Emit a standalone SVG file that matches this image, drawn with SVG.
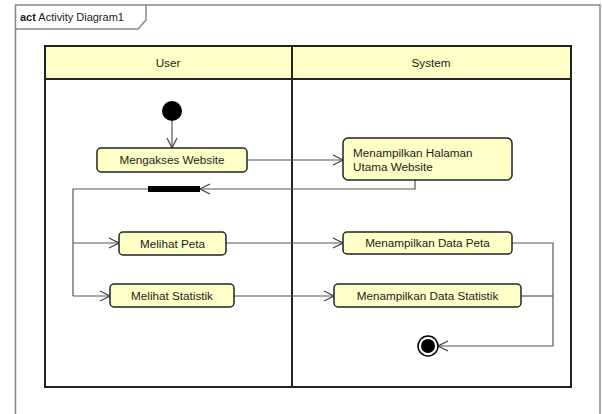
<svg xmlns="http://www.w3.org/2000/svg" width="602" height="414" viewBox="0 0 602 414">
<defs>
<style>
text{font-family:"Liberation Sans",Arial,sans-serif;font-size:11.7px;fill:#222}
.title{font-size:11px}
.frame{fill:none;stroke:#888;stroke-width:1.5}
.lane{fill:none;stroke:#222;stroke-width:2}
.hdr{fill:#FFFFC8;stroke:#222;stroke-width:2}
.act{fill:#FFFFC8;stroke:#222;stroke-width:1.5}
.edge{fill:none;stroke:#555;stroke-width:1.2}
</style>
<marker id="ah" markerWidth="12" markerHeight="12" refX="11" refY="6" orient="auto" markerUnits="userSpaceOnUse">
<path d="M1,1 L11,6 L1,11" fill="none" stroke="#444" stroke-width="1.2"/>
</marker>
</defs>
<rect width="602" height="414" fill="#fff"/>
<g id="frame">
<path class="frame" d="M15.5,414 V5 H600 V414"/>
<path class="frame" d="M15.5,29 H138 L146,20 V5"/>
<text class="title" x="20" y="21"><tspan font-weight="bold">act</tspan> Activity Diagram1</text>
</g>
<g id="lanes">
<rect class="hdr" x="45" y="46" width="526" height="33"/>
<line class="lane" x1="292" y1="46" x2="292" y2="387"/>
<rect class="lane" x="45" y="46" width="526" height="341"/>
<text x="168" y="67" text-anchor="middle">User</text>
<text x="431" y="67" text-anchor="middle">System</text>
</g>
<g id="connectors">
<line class="edge" x1="172" y1="121" x2="172" y2="148" marker-end="url(#ah)"/>
<line class="edge" x1="247" y1="160" x2="343" y2="160" marker-end="url(#ah)"/>
<polyline class="edge" points="415,180 415,189 200,189" marker-end="url(#ah)"/>
<polyline class="edge" points="148,189 73,189 73,296"/>
<line class="edge" x1="73" y1="243" x2="119" y2="243" marker-end="url(#ah)"/>
<line class="edge" x1="73" y1="296" x2="110" y2="296" marker-end="url(#ah)"/>
<line class="edge" x1="226" y1="243" x2="343" y2="243" marker-end="url(#ah)"/>
<line class="edge" x1="234" y1="296" x2="334" y2="296" marker-end="url(#ah)"/>
<polyline class="edge" points="512,243 553,243 553,346 438,346" marker-end="url(#ah)"/>
<line class="edge" x1="521" y1="296" x2="553" y2="296"/>
</g>
<g id="start"><circle cx="172" cy="111" r="10" fill="#000"/></g>
<g id="fork"><rect x="148" y="186" width="52" height="6" fill="#000"/></g>
<g id="final">
<circle cx="428" cy="346" r="10" fill="#fff" stroke="#000" stroke-width="1.5"/>
<circle cx="428" cy="346" r="7" fill="#000"/>
</g>
<g id="mengakses">
<rect class="act" x="97" y="148" width="150" height="24" rx="4"/>
<text x="172" y="164" text-anchor="middle">Mengakses Website</text>
</g>
<g id="halaman">
<rect class="act" x="343" y="138" width="169" height="42" rx="5"/>
<text x="353" y="157">Menampilkan Halaman</text>
<text x="353" y="171">Utama Website</text>
</g>
<g id="peta">
<rect class="act" x="119" y="232" width="107" height="23" rx="4"/>
<text x="172.5" y="247.5" text-anchor="middle">Melihat Peta</text>
</g>
<g id="statistik">
<rect class="act" x="110" y="284" width="124" height="23" rx="4"/>
<text x="172" y="299.5" text-anchor="middle">Melihat Statistik</text>
</g>
<g id="dataPeta">
<rect class="act" x="343" y="232" width="169" height="22" rx="4"/>
<text x="427.5" y="247" text-anchor="middle">Menampilkan Data Peta</text>
</g>
<g id="dataStatistik">
<rect class="act" x="334" y="284" width="187" height="23" rx="4"/>
<text x="427.5" y="299.5" text-anchor="middle">Menampilkan Data Statistik</text>
</g>
</svg>
